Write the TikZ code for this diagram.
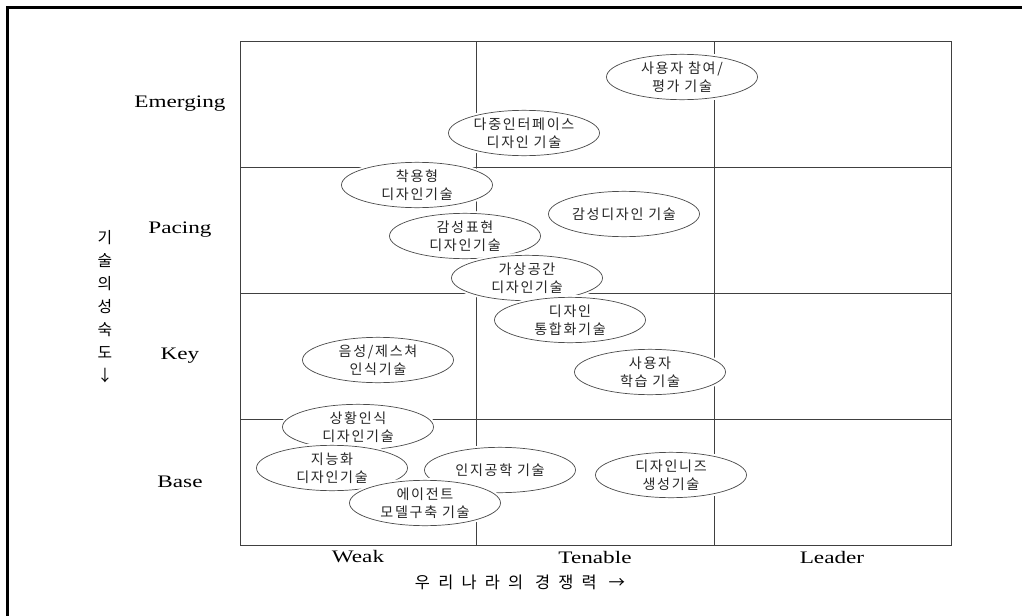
\documentclass[tikz,border=0pt]{standalone}
\usepackage{fontspec}
\setmainfont{Liberation Serif}[FakeStretch=1.32]
\newfontfamily\krfont{Noto Sans CJK KR}[LetterSpace=12]
\newfontfamily\krwide{Noto Sans CJK KR}[LetterSpace=50]
\usetikzlibrary{shapes.geometric}

\tikzset{
  grid line/.style={draw=black!75, line width=0.8pt},
  tech/.style={ellipse, draw=black!70, fill=white, line width=0.6pt,
    preaction={draw=white, line width=4pt},
    minimum width=4.53cm, minimum height=1.36cm,
    inner xsep=-30pt, inner ysep=-12pt, align=center,
    font=\krfont\fontsize{12}{15}\selectfont, text=black!85},
  level/.style={font=\fontsize{15}{17}\selectfont},
}

\begin{document}
\begin{tikzpicture}[x=0.03cm, y=-0.03cm]
\useasboundingbox (0,0) rectangle (1022,616);
% outer frame
\draw[line width=1.8pt] (7.5,616) -- (7.5,7.5) -- (1022,7.5);

% 3 x 4 grid
\draw[grid line] (240,41) rectangle (951,545);
\foreach \x in {476,714}
  \draw[grid line] (\x,41) -- (\x,545);
\foreach \y in {167,293,419}
  \draw[grid line] (240,\y) -- (951,\y);

% row and column labels
\foreach \name/\y in {Emerging/104, Pacing/230, Key/356, Base/482}
  \node[level] (row-\name) at (180,\y) {\name};
\foreach \name/\x in {Weak/358, Tenable/595, Leader/832}
  \node[level] (col-\name) at (\x,557) {\name};

% axis titles
\node[font=\krwide\fontsize{14}{15}\selectfont] (xaxis) at (520,582) {우리나라의\ 경쟁력\ →};
\node[font=\krfont\fontsize{13.5}{19.6}\selectfont, align=center] (yaxis) at (105,307)
  {기\\술\\의\\성\\숙\\도\\↓};

% technologies
\node[tech] (user-eval) at (682,77) {사용자\ 참여/\\평가\ 기술};
\node[tech] (multi-if) at (524,133) {다중인터페이스\\디자인\ 기술};
\node[tech] (wearable) at (417,185) {착용형\\디자인기술};
\node[tech] (emotion) at (624,214) {감성디자인\ 기술};
\node[tech] (expr) at (465,236) {감성표현\\디자인기술};
\node[tech] (virtual) at (527,278) {가상공간\\디자인기술};
\node[tech] (integr) at (570,320) {디자인\\통합화기술};
\node[tech] (learn) at (650,372) {사용자\\학습\ 기술};
\node[tech] (voice) at (378,360) {음성/제스쳐\\인식기술};
\node[tech] (context) at (358,427) {상황인식\\디자인기술};
\node[tech] (intel) at (332,468) {지능화\\디자인기술};
\node[tech] (cogn) at (500,470) {인지공학\ 기술};
\node[tech] (agent) at (425,503) {에이전트\\모델구축\ 기술};
\node[tech] (needs) at (671,475) {디자인니즈\\생성기술};
\end{tikzpicture}
\end{document}
